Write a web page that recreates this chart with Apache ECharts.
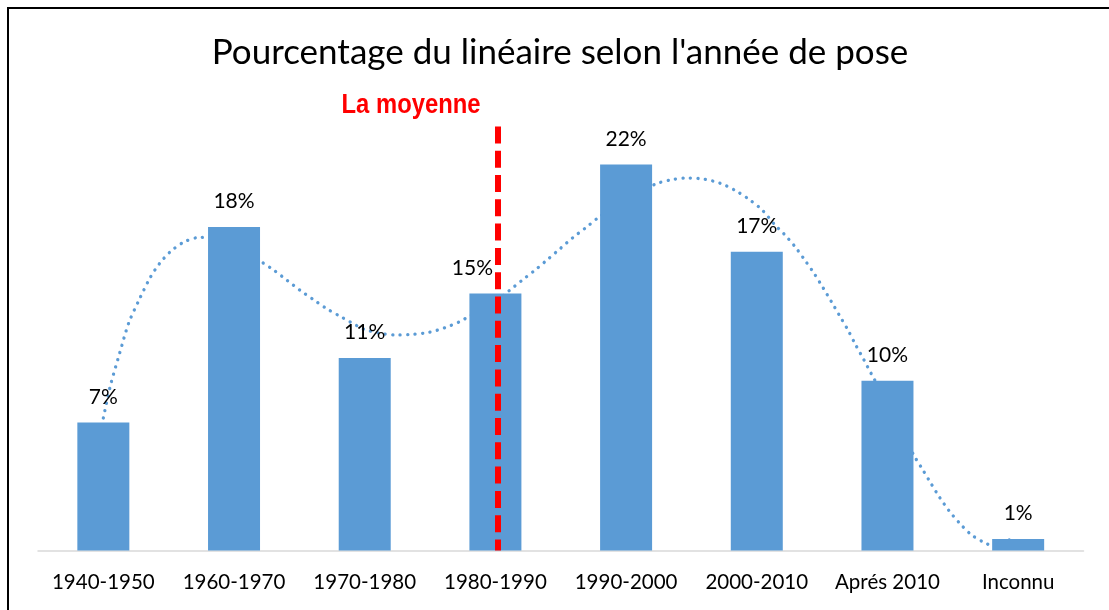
<!DOCTYPE html>
<html lang="fr">
<head>
  <meta charset="utf-8">
  <title>Pourcentage du linéaire selon l'année de pose</title>
  <script src="https://cdn.jsdelivr.net/npm/echarts@6.0.0/dist/echarts.min.js"></script>
  <style>
    html, body { margin: 0; padding: 0; background: #fff; }
    #chart { width: 1109px; height: 610px; }
  </style>
</head>
<body>
  <div id="chart"></div>
  <script type="text/javascript">
// periodes de pose
var categories = ['1940-1950', '1960-1970', '1970-1980', '1980-1990', '1990-2000', '2000-2010', 'Aprés 2010', 'Inconnu'];
// part du lineaire (%)
var shares = [7.25, 18.3, 10.9, 14.55, 21.85, 16.9, 9.6, 0.65];
// courbe de tendance (position de categorie, %)
var trendX = [0, 0.054, 0.123, 0.195, 0.274, 0.358, 0.429, 0.513, 0.618, 0.74, 0.86, 1.0, 1.2, 1.305, 1.406, 1.506, 1.611, 1.712, 1.825, 1.94, 1.995, 2.118, 2.246, 2.368, 2.493, 2.615, 2.732, 2.789, 3.0, 3.105, 3.204, 3.304, 3.401, 3.495, 3.592, 3.692, 3.791, 4.0, 4.227, 4.347, 4.472, 4.599, 4.721, 4.834, 4.941, 5.041, 5.14, 5.209, 5.293, 5.367, 5.438, 5.507, 5.571, 5.635, 5.699, 5.757, 5.819, 5.877, 5.907, 6.0, 6.201, 6.265, 6.331, 6.397, 6.471, 6.553, 6.642, 6.749, 6.8, 6.86, 6.98];
var trendY = [7.5, 9.33, 11.12, 12.89, 14.19, 15.44, 16.23, 16.91, 17.46, 17.72, 17.7, 17.3, 16.38, 15.86, 15.29, 14.72, 14.18, 13.67, 13.2, 12.72, 12.52, 12.29, 12.2, 12.23, 12.35, 12.61, 12.97, 13.21, 14.06, 14.7, 15.29, 15.87, 16.48, 17.08, 17.7, 18.27, 18.86, 19.89, 20.74, 20.98, 21.08, 21.01, 20.78, 20.38, 19.87, 19.27, 18.42, 17.91, 17.19, 16.44, 15.69, 14.87, 14.08, 13.27, 12.46, 11.63, 10.8, 9.99, 9.59, 8.35, 5.4, 4.63, 3.82, 3.03, 2.25, 1.54, 0.89, 0.42, 0.3, 0.35, 0.78];
// position de la moyenne sur l'axe des categories
var meanPos = 3.02;

var trendData = [];
for (var i = 0; i < trendX.length; i++) {
  trendData.push([trendX[i], trendY[i]]);
}

var barData = [];
for (var j = 0; j < shares.length; j++) {
  var item = { value: shares[j] };
  if (categories[j] == '1980-1990') {
    // etiquette decalee pour laisser passer la ligne rouge
    item.label = { offset: [-23, 0] };
  }
  barData.push(item);
}

var chart = echarts.init(document.getElementById('chart'));

var option = {
  backgroundColor: '#fff',
  animation: false,
  title: {
    text: "Pourcentage du linéaire selon l'année de pose",
    left: 560,
    top: 35,
    padding: 0,
    textAlign: 'center',
    textStyle: {
      fontFamily: 'Lato',
      fontSize: 35,
      fontWeight: 'normal',
      color: '#000'
    }
  },
  grid: {
    left: 38,
    right: 25.5,
    top: 126.4,
    bottom: 59.5
  },
  xAxis: [{
    type: 'category',
    data: categories,
    axisLine: { lineStyle: { color: '#d9d9d9', width: 1.5 } },
    axisTick: { show: false },
    axisLabel: {
      fontFamily: 'Lato',
      fontSize: 20.5,
      color: '#000',
      margin: 21,
      interval: 0
    }
  }, {
    type: 'value',
    min: -0.5,
    max: 7.5,
    show: false
  }],
  yAxis: {
    type: 'value',
    min: 0,
    max: 24,
    show: false,
    splitLine: { show: false }
  },
  series: [{
    name: 'Tendance',
    type: 'line',
    xAxisIndex: 1,
    data: trendData,
    smooth: 0.3,
    symbol: 'none',
    z: 1,
    lineStyle: {
      color: '#5B9BD5',
      width: 3.3,
      type: [0.1, 7.4],
      cap: 'round'
    },
    markLine: {
      silent: true,
      symbol: ['none', 'none'],
      lineStyle: {
        color: '#FF0000',
        width: 6,
        type: [17, 7.3],
        cap: 'butt'
      },
      label: { show: false },
      data: [[{ coord: [meanPos, 24] }, { coord: [meanPos, 0] }]]
    }
  }, {
    name: 'Part du linéaire',
    type: 'bar',
    data: barData,
    barWidth: 52,
    z: 2,
    itemStyle: { color: '#5B9BD5' },
    label: {
      show: true,
      position: 'top',
      distance: 15,
      fontFamily: 'Lato',
      fontSize: 21,
      color: '#000',
      formatter: function (p) { return Math.round(p.value) + '%'; }
    }
  }]
};

chart.setOption(option);

// cadre + libelle de la moyenne au-dessus de la ligne rouge (police condensee)
var topPt = chart.convertToPixel({ xAxisIndex: 1, yAxisIndex: 0 }, [meanPos, 24]);
chart.setOption({
  graphic: [{
    type: 'rect',
    shape: { x: 8, y: 8, width: 1200, height: 700 },
    style: { fill: 'none', stroke: '#000', lineWidth: 2 },
    z: -10
  }, {
    type: 'text',
    x: topPt[0] - 87,
    y: topPt[1] - 21,
    scaleX: 0.85,
    z: 10,
    style: {
      text: 'La moyenne',
      fill: '#FF0000',
      font: "bold 28px 'Liberation Sans', sans-serif",
      textAlign: 'center',
      textVerticalAlign: 'middle'
    }
  }]
});
  </script>
</body>
</html>
